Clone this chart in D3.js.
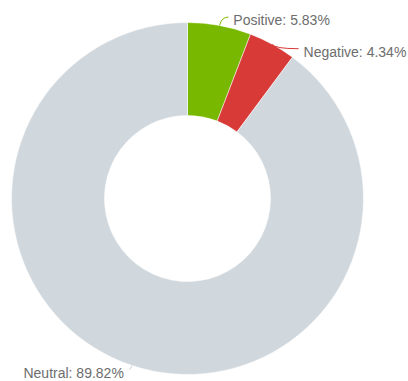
<!DOCTYPE html>
<html>
<head>
<meta charset="utf-8">
<script src="https://cdn.jsdelivr.net/npm/d3@7"></script>
<style>
  body { margin: 0; background: #fff; }
  svg { display: block; }
</style>
</head>
<body>
<svg id="chart"></svg>
<script>
const width = 408, height = 381;

// data
const labels = ["Positive", "Negative", "Neutral"];
const shares = [5.83, 4.34, 89.82];
const colors = ["#79b800", "#d83a37", "#d1d8dd"];
// label nudges (collision shift)
const labelNudgeY = [2, 14, 0];
const labelNudgeX = [-3, 0, 0];

const cx = 187.5, cy = 198.5;
const outerR = 176, innerR = 83, labelR = 183.5, pad = 6;

const svg = d3.select("#chart")
  .attr("width", width)
  .attr("height", height);

const g = svg.append("g")
  .attr("transform", `translate(${cx},${cy})`);

const pie = d3.pie().sort(null).value(d => d);
const arcs = pie(shares);

const arc = d3.arc().innerRadius(innerR).outerRadius(outerR);

g.selectAll("path.slice")
  .data(arcs)
  .enter().append("path")
  .attr("class", "slice")
  .attr("d", arc)
  .attr("fill", (d, i) => colors[i])
  .attr("stroke", "#fff")
  .attr("stroke-width", 0.5);

// labels + connectors
arcs.forEach((d, i) => {
  const mid = (d.startAngle + d.endAngle) / 2;
  const px = outerR * Math.sin(mid), py = -outerR * Math.cos(mid);
  const right = Math.sin(mid) >= 0;
  let ly = -labelR * Math.cos(mid) + labelNudgeY[i];
  let lx = Math.sqrt(Math.max(0, labelR * labelR - ly * ly)) + pad;
  if (!right) lx = -lx;
  lx += labelNudgeX[i];
  const ex = right ? lx - 5 : lx + 5;
  const ey = ly - 3;

  g.append("path")
    .attr("d", `M${px},${py} Q${px + (right ? 2 : -2)},${ey} ${ex},${ey}`)
    .attr("fill", "none")
    .attr("stroke", i === 2 ? "#c8cfd4" : colors[i])
    .attr("stroke-width", 1);

  g.append("text")
    .attr("x", lx)
    .attr("y", ly)
    .attr("dy", "0.35em")
    .attr("text-anchor", right ? "start" : "end")
    .attr("font-family", "Liberation Sans, Arial, sans-serif")
    .attr("font-size", 14)
    .attr("fill", "#6d6d6d")
    .text(`${labels[i]}: ${shares[i].toFixed(2)}%`);
});
</script>
</body>
</html>
